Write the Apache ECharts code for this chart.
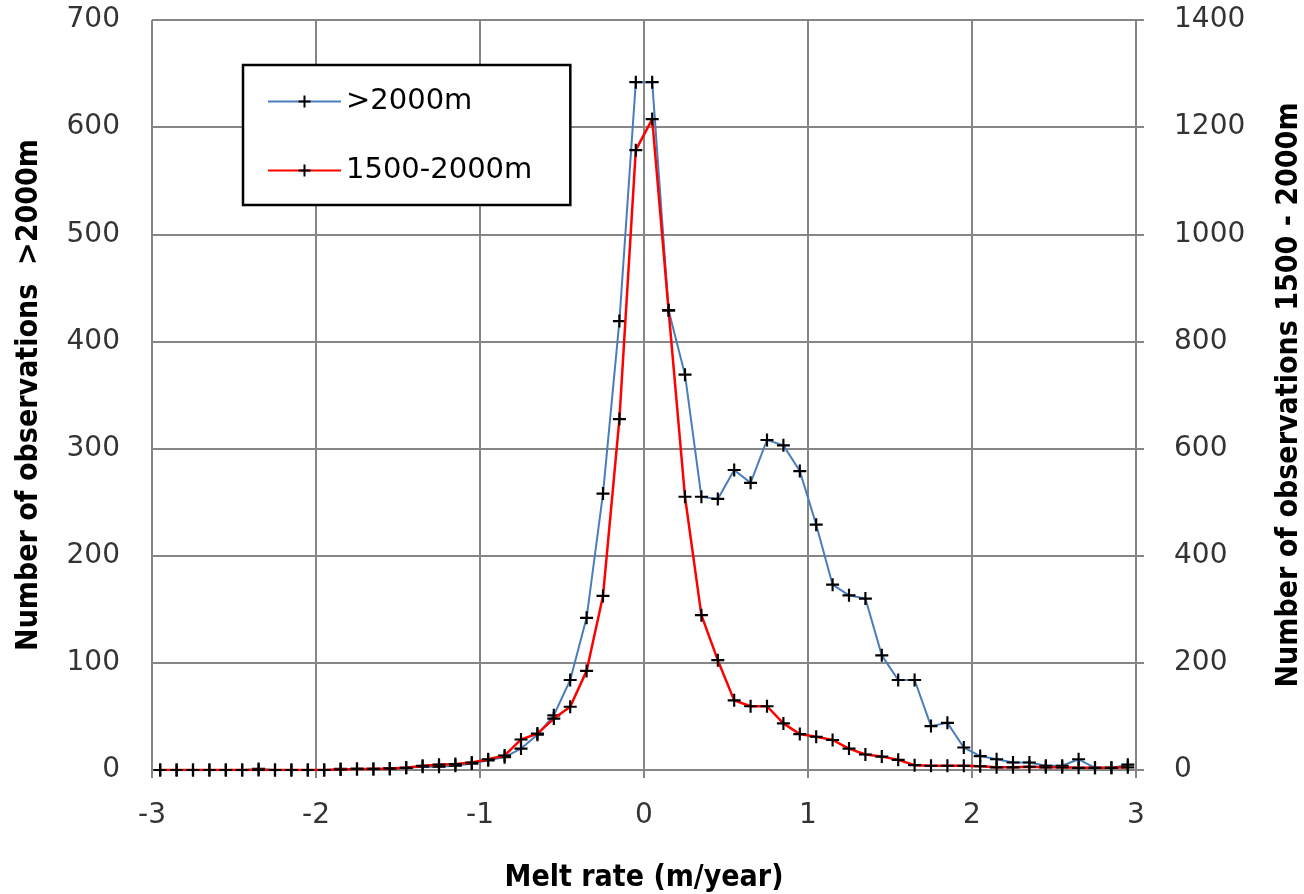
<!DOCTYPE html>
<html>
<head>
<meta charset="utf-8">
<title>Melt rate distribution</title>
<script src="https://cdn.jsdelivr.net/npm/echarts@6/dist/echarts.min.js"></script>
<style>
  html, body { margin: 0; padding: 0; background: #ffffff; }
  #chart { width: 1304px; height: 894px; }
</style>
</head>
<body>
<div id="chart"></div>
<script>
// Bin centres of the melt-rate histogram (m/year)
const meltRate = [
  -2.95, -2.85, -2.75, -2.65, -2.55, -2.45, -2.35, -2.25, -2.15, -2.05,
  -1.95, -1.85, -1.75, -1.65, -1.55, -1.45, -1.35, -1.25, -1.15, -1.05,
  -0.95, -0.85, -0.75, -0.65, -0.55, -0.45, -0.35, -0.25, -0.15, -0.05,
   0.05,  0.15,  0.25,  0.35,  0.45,  0.55,  0.65,  0.75,  0.85,  0.95,
   1.05,  1.15,  1.25,  1.35,  1.45,  1.55,  1.65,  1.75,  1.85,  1.95,
   2.05,  2.15,  2.25,  2.35,  2.45,  2.55,  2.65,  2.75,  2.85,  2.95
];

// Observation counts above 2000 m (left axis)
const obsAbove2000 = [
    0,   0,   0,   0,   0,   0,   1,   0,   0,   0,
    0,   1,   1,   1,   1,   2,   3,   3,   4,   6,
    9,  12,  20,  33,  51,  84, 142, 258, 419, 642,
  642, 429, 369, 255, 253, 280, 268, 308, 303, 279,
  229, 173, 163, 160, 107,  84,  84,  41,  44,  21,
   13,  10,   7,   7,   4,   4,  10,   2,   2,   5
];

// Observation counts between 1500 and 2000 m (right axis)
const obs1500to2000 = [
     0,    0,    0,    0,    0,    0,    0,    0,    0,    0,
     0,    1,    2,    2,    3,    4,    8,   10,   11,   14,
    20,   27,   57,   68,   96,  118,  185,  325,  655, 1157,
  1215,  858,  510,  289,  205,  130,  119,  119,   87,   67,
    62,   56,   40,   29,   25,   19,    9,    8,    8,    8,
     7,    5,    5,    6,    5,    5,    4,    4,    4,    5
];

const seriesNames = ['>2000m', '1500-2000m'];
const xTicks = { min: -3, max: 3, step: 1 };
const leftTicks = { min: 0, max: 700, step: 100 };
const rightTicks = { min: 0, max: 1400, step: 200 };

const pairs = (xs, ys) => xs.map((x, i) => [x, ys[i]]);
const plainNumber = (v) => String(v);

const GRID_GREY = '#868686';
const TICK_FONT = '"DejaVu Sans", Verdana, sans-serif';
const TITLE_FONT = '"DejaVu Sans Condensed", "Liberation Sans Narrow", "DejaVu Sans", sans-serif';
const PLUS = 'path://M5,0H7V5H12V7H7V12H5V7H0V5H5Z';

const tickLabel = { color: '#333333', fontFamily: TICK_FONT, fontSize: 28, formatter: plainNumber };
const titleStyle = { color: '#000000', fontFamily: TITLE_FONT, fontSize: 30, fontWeight: 'bold' };

const chart = echarts.init(document.getElementById('chart'), null, { renderer: 'canvas' });

chart.setOption({
  backgroundColor: '#ffffff',
  animation: false,
  grid: { left: 152, right: 168, top: 20, bottom: 124, containLabel: false, outerBoundsMode: 'none' },
  legend: {
    left: 243,
    top: 65,
    orient: 'vertical',
    data: seriesNames,
    backgroundColor: '#ffffff',
    borderColor: '#000000',
    borderWidth: 2.5,
    padding: [22, 38, 20, 24],
    itemWidth: 73,
    itemHeight: 15,
    itemGap: 40,
    textStyle: { color: '#000000', fontFamily: TICK_FONT, fontSize: 29 }
  },
  xAxis: {
    type: 'value',
    min: xTicks.min,
    max: xTicks.max,
    interval: xTicks.step,
    name: 'Melt rate (m/year)',
    nameLocation: 'middle',
    nameGap: 93,
    nameTextStyle: titleStyle,
    axisLine: { show: true, onZero: false, lineStyle: { color: GRID_GREY, width: 2 } },
    axisTick: { show: true, inside: false, length: 8, lineStyle: { color: GRID_GREY, width: 2 } },
    axisLabel: Object.assign({}, tickLabel, { margin: 32 }),
    splitLine: { show: true, lineStyle: { color: GRID_GREY, width: 2 } }
  },
  yAxis: [
    {
      type: 'value',
      position: 'left',
      min: leftTicks.min,
      max: leftTicks.max,
      interval: leftTicks.step,
      name: 'Number of observations  >2000m',
      nameLocation: 'middle',
      nameRotate: 90,
      nameGap: 108,
      nameTextStyle: titleStyle,
      axisLine: { show: true, lineStyle: { color: GRID_GREY, width: 2 } },
      axisTick: { show: true, inside: false, length: 8, lineStyle: { color: GRID_GREY, width: 2 } },
      axisLabel: Object.assign({}, tickLabel, { margin: 32 }),
      splitLine: { show: true, lineStyle: { color: GRID_GREY, width: 2 } }
    },
    {
      type: 'value',
      position: 'right',
      min: rightTicks.min,
      max: rightTicks.max,
      interval: rightTicks.step,
      name: 'Number of observations 1500 - 2000m',
      nameLocation: 'middle',
      nameRotate: 90,
      nameGap: 138,
      nameTextStyle: titleStyle,
      axisLine: { show: true, lineStyle: { color: GRID_GREY, width: 2 } },
      axisTick: { show: true, inside: false, length: 8, lineStyle: { color: GRID_GREY, width: 2 } },
      axisLabel: Object.assign({}, tickLabel, { margin: 38 }),
      splitLine: { show: false }
    }
  ],
  series: [
    {
      name: seriesNames[0],
      type: 'line',
      yAxisIndex: 0,
      data: pairs(meltRate, obsAbove2000),
      symbol: PLUS,
      symbolSize: 13,
      showAllSymbol: true,
      itemStyle: { color: '#000000' },
      lineStyle: { color: '#4a7ebb', width: 2 },
      emphasis: { disabled: true },
      z: 2
    },
    {
      name: seriesNames[1],
      type: 'line',
      yAxisIndex: 1,
      data: pairs(meltRate, obs1500to2000),
      symbol: PLUS,
      symbolSize: 13,
      showAllSymbol: true,
      itemStyle: { color: '#000000' },
      lineStyle: { color: '#ff0000', width: 2.5 },
      emphasis: { disabled: true },
      z: 3
    }
  ]
});
</script>
</body>
</html>
